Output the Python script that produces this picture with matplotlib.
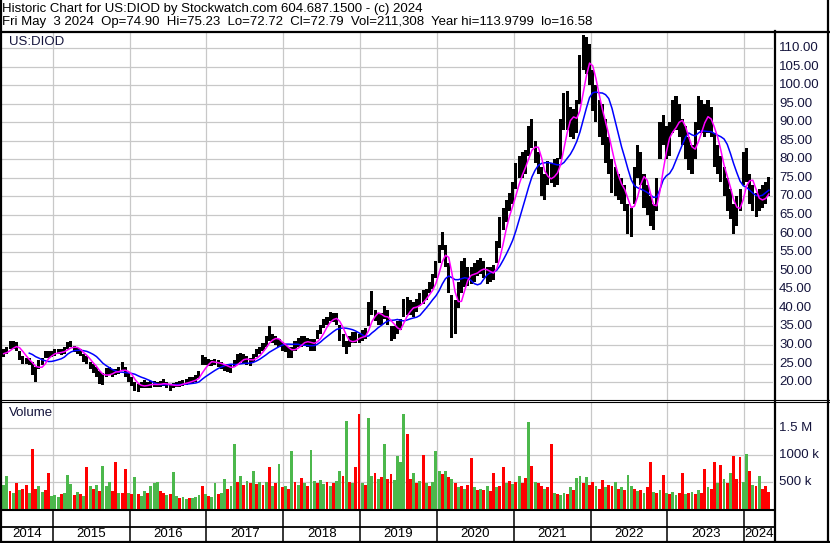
import numpy as np
import pandas as pd
import matplotlib
matplotlib.use('Agg')
import matplotlib.pyplot as plt
from matplotlib.lines import Line2D

# ---------------- data (half-monthly, May 2014 .. May 2024) ----------------
start_year = 2014.32
price_hi = [
    28.5, 28.8, 29.5, 31.0, 31.2, 30.8, 28.5, 27.0, 26.5, 26.5,
    25.5, 24.0, 26.0, 26.5, 28.3, 28.5, 28.5, 28.8, 29.0, 29.0,
    29.5, 30.8, 31.0, 29.8, 29.2, 28.8, 27.5, 27.0, 25.5, 24.8,
    24.0, 23.0, 22.5, 23.8, 24.0, 23.5, 23.5, 24.0, 25.5, 24.0,
    22.5, 21.5, 20.0, 19.5, 20.0, 20.5, 20.0, 20.3, 20.3, 20.0,
    20.3, 20.8, 20.0, 19.5, 19.8, 20.0, 20.2, 20.5, 20.7, 21.3,
    21.5, 22.0, 23.0, 27.3, 26.8, 26.3, 26.0, 26.3, 26.0, 25.5,
    25.0, 24.8, 24.5, 26.0, 27.5, 27.8, 27.5, 27.0, 26.5, 27.5,
    29.0, 29.5, 30.5, 32.5, 35.0, 33.0, 32.5, 31.5, 30.8, 30.2,
    29.5, 29.5, 31.0, 32.0, 32.3, 32.5, 32.0, 31.5, 31.5, 34.0,
    35.5, 37.0, 37.6, 38.8, 38.5, 38.5, 35.5, 33.0, 31.0, 32.5,
    33.5, 33.5, 33.0, 34.0, 34.5, 41.5, 44.5, 39.5, 38.5, 38.5,
    40.5, 39.5, 35.0, 35.0, 36.5, 37.0, 42.5, 43.0, 42.0, 41.5,
    42.5, 44.0, 44.8, 45.0, 47.0, 49.0, 52.5, 57.0, 60.3, 57.0,
    52.0, 43.5, 42.0, 47.0, 52.5, 53.5, 51.0, 51.0, 52.0, 53.0,
    53.5, 52.5, 51.0, 51.0, 51.5, 58.0, 64.5, 67.0, 69.0, 71.0,
    74.0, 79.0, 81.0, 82.0, 82.5, 89.0, 91.0, 85.0, 82.0, 78.0,
    76.0, 79.5, 79.0, 80.0, 80.5, 91.0, 98.0, 98.5, 94.0, 93.5,
    96.0, 108.0, 113.5, 113.0, 111.0, 104.0, 100.0, 96.0, 95.0, 91.0,
    86.0, 80.0, 78.0, 76.0, 75.0, 73.0, 68.0, 67.0, 78.0, 84.0,
    82.0, 76.0, 73.0, 70.0, 68.0, 75.0, 90.0, 92.0, 89.0, 90.0,
    96.0, 97.0, 95.0, 91.0, 89.0, 86.0, 84.0, 90.0, 97.0, 96.0,
    95.0, 96.0, 94.0, 87.0, 84.0, 81.0, 78.0, 75.0, 72.0, 68.0,
    70.0, 72.0, 82.0, 83.0, 76.0, 73.0, 71.0, 72.0, 73.0, 74.0,
    75.2,
]
price_lo = [
    26.5, 26.8, 27.5, 29.0, 29.0, 28.5, 26.0, 25.0, 24.8, 24.5,
    22.0, 20.0, 23.5, 24.5, 26.5, 26.5, 26.8, 27.0, 27.5, 27.2,
    27.5, 29.0, 29.5, 28.0, 27.5, 27.0, 25.5, 25.0, 23.5, 22.5,
    21.5, 19.5, 19.3, 21.5, 21.8, 21.5, 22.0, 22.2, 23.0, 21.5,
    20.0, 19.0, 17.5, 17.3, 18.3, 18.5, 18.5, 18.3, 18.6, 18.7,
    18.8, 19.0, 18.5, 17.7, 18.3, 18.8, 18.8, 19.0, 19.2, 19.5,
    19.8, 20.0, 21.0, 24.5, 24.5, 24.3, 24.3, 24.5, 24.0, 23.5,
    23.0, 22.8, 22.5, 24.0, 25.0, 25.5, 25.0, 24.5, 24.3, 25.5,
    26.8, 27.5, 28.5, 29.5, 31.0, 30.5, 30.0, 29.5, 28.5, 28.0,
    26.6, 26.5, 28.5, 29.5, 29.5, 29.7, 29.5, 28.5, 28.3, 31.5,
    33.0, 34.5, 35.5, 36.5, 36.3, 35.5, 31.0, 29.5, 27.5, 29.5,
    30.5, 30.5, 30.5, 31.0, 31.5, 35.0, 38.0, 36.5, 35.5, 35.5,
    37.0, 35.5, 31.0, 31.5, 33.0, 34.0, 37.5, 38.0, 38.0, 37.5,
    39.0, 40.5, 41.0, 42.0, 44.0, 45.0, 48.0, 52.0, 55.5, 51.0,
    44.0, 32.0, 33.0, 40.0, 44.0, 45.5, 46.0, 46.5, 47.0, 48.5,
    49.0, 48.0, 46.5, 47.0, 47.5, 52.0, 56.0, 61.0, 63.0, 66.0,
    68.0, 72.0, 75.0, 75.0, 76.0, 81.0, 83.0, 79.0, 76.0, 70.0,
    69.0, 73.0, 73.5, 72.5, 73.0, 80.0, 88.0, 88.0, 86.0, 85.5,
    87.0, 95.0, 104.0, 103.0, 100.0, 93.0, 90.0, 86.0, 84.0, 79.0,
    76.0, 71.0, 70.0, 69.0, 68.0, 66.0, 60.0, 59.0, 68.0, 75.0,
    73.0, 67.0, 65.0, 62.0, 61.0, 66.0, 80.0, 84.0, 80.0, 81.0,
    87.0, 88.0, 86.0, 84.0, 80.0, 77.0, 76.0, 80.0, 88.0, 87.0,
    86.0, 87.0, 86.0, 78.0, 76.0, 74.0, 70.0, 66.0, 64.0, 60.0,
    62.0, 66.0, 73.0, 74.0, 68.0, 66.0, 64.5, 66.0, 67.0, 68.0,
    70.0,
]
volume_k = [
    540, 450, 610, 330, 300, 490, 350, 380, 450, 290,
    1110, 380, 430, 320, 350, 670, 250, 260, 230, 280,
    300, 640, 460, 260, 310, 280, 240, 780, 420, 380,
    450, 340, 800, 420, 510, 330, 880, 300, 290, 750,
    300, 280, 600, 280, 250, 330, 300, 420, 480, 500,
    330, 300, 260, 280, 690, 240, 200, 220, 180, 200,
    210, 230, 260, 420, 280, 250, 230, 480, 280, 300,
    550, 380, 420, 1200, 500, 610, 450, 520, 480, 700,
    460, 500, 450, 510, 780, 420, 480, 840, 400, 420,
    380, 1070, 500, 450, 580, 480, 420, 1090, 520, 480,
    540, 460, 500, 420, 480, 520, 700, 610, 1640, 500,
    480, 780, 1770, 480, 450, 1700, 620, 670, 560, 600,
    1200, 560, 650, 540, 980, 870, 1760, 1400, 560, 660,
    480, 520, 1010, 480, 420, 500, 1070, 700, 650, 710,
    600, 560, 480, 400, 420, 380, 450, 940, 400, 350,
    380, 360, 420, 340, 660, 400, 420, 780, 480, 520,
    460, 500, 620, 480, 580, 1610, 800, 500, 480, 420,
    380, 400, 1210, 300, 280, 260, 300, 280, 400, 350,
    580, 610, 480, 600, 450, 500, 420, 380, 540, 400,
    450, 420, 500, 380, 400, 360, 640, 420, 380, 330,
    360, 300, 400, 870, 320, 300, 360, 640, 300, 280,
    320, 260, 300, 660, 280, 300, 320, 280, 360, 300,
    740, 400, 380, 880, 480, 820, 560, 480, 660, 980,
    560, 970, 500, 1030, 700, 450, 420, 610, 380, 430,
    320,
]
volume_dir = ("rggrgrgrrg" "rrggrrgggr" "gggrgrgrgr" "grgggrrgrr" "grgrggrggg"
              "rrgrggrggr" "gggrgrggrg" "grggrgrgrg" "rgrgrgrgrg" "rgrgrgrggr"
              "ggrgrggrgr" "grrgrggrgr" "grrggggrrg" "rgrgrgggrg" "rgrgrgrrgr"
              "grgrrgrrgr" "grgrrgrgrr" "grrgrggrgr" "ggrgrrgrrg" "rrgrgrggrg"
              "rgrrgrgrgr" "ggrrgrgrgr" "rgrrgrgrgr" "rrggrgrgrr" "r")
year_bounds = [2015, 2016, 2017, 2018, 2019, 2020, 2021, 2022, 2023, 2024]
year_labels = ['2014', '2015', '2016', '2017', '2018', '2019', '2020', '2021', '2022', '2023', '2024']
price_ticks = list(range(20, 111, 5))
vol_ticks = [500, 1000, 1500]
vol_tick_labels = ['500 k', '1000 k', '1.5 M']

assert len(price_hi) == len(price_lo) == len(volume_k) == len(volume_dir)

# ---------------- figure ----------------
W, H = 830, 543
plt.rcParams['font.family'] = ['Liberation Sans', 'DejaVu Sans']
fig = plt.figure(figsize=(W / 100, H / 100), dpi=100)
fig.patch.set_facecolor('white')

def fx(px):
    return px / W

def fy(py):
    return 1 - py / H

def px2t(px):
    return 2015 + (px - 52.7) / 76.84

XL = (px2t(1), px2t(773))
GRID = '#c8c8c8'
TXT = '#14143c'
FS = 9.5

n = len(price_hi)
t = start_year + np.arange(n) / 24.0
hi = np.array(price_hi)
lo = np.array(price_lo)
mid = pd.Series((hi + lo) / 2)
ma_fast = mid.rolling(4, min_periods=2).mean()
ma_slow = mid.rolling(10, min_periods=10).mean()

# price axes
axp = fig.add_axes([fx(1), fy(400), fx(772), (400 - 32) / H])
axp.set_xlim(*XL)
axp.set_ylim(110 - 352 / 3.712, 110 + 16 / 3.712)
for v in price_ticks:
    axp.axhline(v, color=GRID, lw=0.9, zorder=0)
for yb in year_bounds:
    axp.axvline(yb, color=GRID, lw=0.9, zorder=0)
axp.bar(t, hi - lo, bottom=lo, width=1 / 24 * 0.95, color='black', zorder=2, linewidth=0)
axp.plot(t, ma_slow, color='#0000ff', lw=1.1, zorder=3)
axp.plot(t[1:], ma_fast[1:], color='#ff00ff', lw=1.1, zorder=4)
axp.set_xticks([]); axp.set_yticks([])
for s in axp.spines.values():
    s.set_visible(False)
ytr = axp.get_yaxis_transform()
for v in price_ticks:
    axp.text((779 - 1) / 772, v, f'{v:.2f}', transform=ytr, ha='left', va='center',
             fontsize=FS, color=TXT, clip_on=False)
axp.text(8 / 772, 1 - (42 - 32) / 368, 'US:DIOD', transform=axp.transAxes, ha='left',
         va='center', fontsize=FS, color=TXT)

# volume axes
axv = fig.add_axes([fx(1), fy(509), fx(772), (509 - 403) / H])
axv.set_xlim(*XL)
vtop = (509 - 403) / 26.9 * 500
axv.set_ylim(0, vtop)
for v in vol_ticks:
    axv.axhline(v, color=GRID, lw=0.9, zorder=0)
for yb in year_bounds:
    axv.axvline(yb, color=GRID, lw=0.9, zorder=0)
cols = ['#4cb84c' if c == 'g' else '#ff0000' for c in volume_dir]
axv.bar(t, volume_k, width=1 / 24 * 0.9, color=cols, linewidth=0, zorder=2)
axv.set_xticks([]); axv.set_yticks([])
for s in axv.spines.values():
    s.set_visible(False)
ytv = axv.get_yaxis_transform()
for v, lab in zip(vol_ticks, vol_tick_labels):
    axv.text((779 - 1) / 772, v, lab, transform=ytv, ha='left', va='center',
             fontsize=FS, color=TXT, clip_on=False)
axv.text(8 / 772, 1 - (413 - 403) / 106, 'Volume', transform=axv.transAxes, ha='left',
         va='center', fontsize=FS, color=TXT)

# bottom year band
axb = fig.add_axes([fx(1), fy(541), fx(772), (541 - 510) / H])
axb.set_xlim(*XL); axb.set_ylim(0, 1)
axb.axis('off')
for yb in year_bounds:
    axb.axvline(yb, color='black', lw=1.1)
edges = [XL[0]] + year_bounds + [XL[1]]
for k, lab in enumerate(year_labels):
    axb.text((edges[k] + edges[k + 1]) / 2, (541 - 534) / 31, lab, ha='center',
             va='center', fontsize=FS, color='black')

# frame lines (figure coords)
def hline(py, x0, x1, lw):
    fig.add_artist(Line2D([fx(x0), fx(x1)], [fy(py), fy(py)], color='black', lw=lw,
                          transform=fig.transFigure))

def vline(px, y0, y1, lw):
    fig.add_artist(Line2D([fx(px), fx(px)], [fy(y0), fy(y1)], color='black', lw=lw,
                          transform=fig.transFigure))

hline(31.5, 0, W, 1.6)
hline(400.3, 0, W, 0.8)
hline(402.2, 0, W, 0.8)
hline(510, 0, 774, 1.5)
hline(527, 0, 774, 1.3)
hline(541.8, 0, W, 1.6)
vline(1, 0, H, 1.6)
vline(828, 0, H, 1.6)
vline(774.5, 31, 542, 1.6)

# header
fig.text(fx(2), fy(9), 'Historic Chart for US:DIOD by Stockwatch.com 604.687.1500 - (c) 2024',
         ha='left', va='center', fontsize=FS, color='black')
fig.text(fx(2), fy(22),
         'Fri May  3 2024  Op=74.90  Hi=75.23  Lo=72.72  Cl=72.79  Vol=211,308  Year hi=113.9799  lo=16.58',
         ha='left', va='center', fontsize=FS, color='black')

fig.savefig('out.png', dpi=100, facecolor='white')
